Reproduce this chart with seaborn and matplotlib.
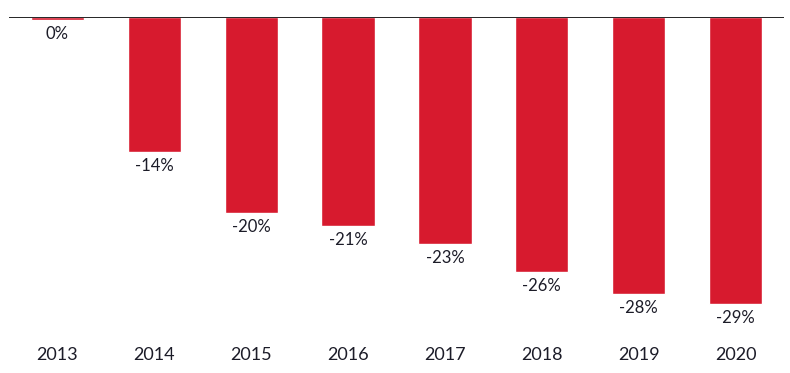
import numpy as np
import pandas as pd
import matplotlib
matplotlib.use("Agg")
import matplotlib.pyplot as plt
import seaborn as sns

# values
years = ["2013", "2014", "2015", "2016", "2017", "2018", "2019", "2020"]
change = [-0.3, -13.7, -19.9, -21.2, -23.0, -25.9, -28.1, -29.1]
labels = ["0%", "-14%", "-20%", "-21%", "-23%", "-26%", "-28%", "-29%"]

sns.set_theme(style="white")
plt.rcParams["font.family"] = ["Lato", "DejaVu Sans"]

df = pd.DataFrame({"year": years, "change": change})

fig = plt.figure(figsize=(7.9, 3.73), dpi=100)
ax = fig.add_axes([9 / 790, 1 - 330 / 373, 775 / 790, 313 / 373])

sns.barplot(data=df, x="year", y="change", color="#D71A2E", width=0.55,
            saturation=1, ax=ax)

ax.set_xlim(-0.5, 7.5)
ax.set_ylim(-(330 - 17) / 9.85, 0)
ax.axhline(0, color="black", lw=1.2, zorder=5)

for i, (v, lab) in enumerate(zip(change, labels)):
    ax.annotate(lab, (i, v), xytext=(0, -4.5), textcoords="offset points",
                ha="center", va="top", fontsize=12, color="#1c1c28")

ax.set_xlabel("")
ax.set_ylabel("")
ax.set_yticks([])
ax.tick_params(axis="x", length=0, pad=12, labelsize=13, colors="#1c1c28")
for s in ax.spines.values():
    s.set_visible(False)

fig.savefig("out.png", dpi=100)
